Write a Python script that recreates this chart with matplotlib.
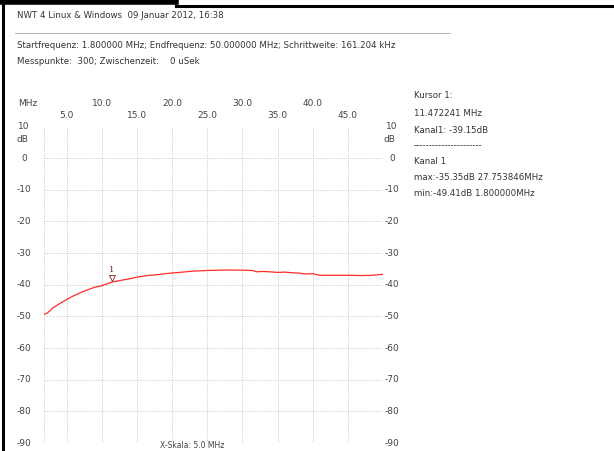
import matplotlib.pyplot as plt
import matplotlib.transforms as mtransforms
import numpy as np

freq = [1.8, 2.3, 3.0, 4.0, 5.0, 6.0, 7.0, 8.0, 9.0, 10.0, 11.47, 13.0, 14.0, 15.0,
        16.5, 18.0, 19.0, 20.0, 21.5, 23.0, 25.0, 27.75, 30.0, 31.5, 32.0, 33.0,
        34.5, 35.0, 36.0, 37.0, 38.0, 39.0, 40.0, 41.0, 43.0, 45.0, 47.0, 48.5, 50.0]
level = [-49.41, -48.9, -47.4, -46.0, -44.7, -43.5, -42.5, -41.6, -40.8, -40.3, -39.15,
         -38.5, -38.1, -37.6, -37.1, -36.8, -36.5, -36.3, -36.0, -35.7, -35.5, -35.35,
         -35.4, -35.5, -35.9, -35.8, -36.0, -36.1, -36.0, -36.2, -36.3, -36.6, -36.5,
         -37.0, -37.0, -37.0, -37.1, -37.0, -36.7]

x_major = [5.0, 10.0, 15.0, 20.0, 25.0, 30.0, 35.0, 40.0, 45.0]
y_ticks = [10, 0, -10, -20, -30, -40, -50, -60, -70, -80, -90]
f_start, f_stop = 1.8, 50.0
cursor_f, cursor_db = 11.472241, -39.15

header = "NWT 4 Linux & Windows  09 Januar 2012, 16:38"
line2 = "Startfrequenz: 1.800000 MHz; Endfrequenz: 50.000000 MHz; Schrittweite: 161.204 kHz"
line3 = "Messpunkte:  300; Zwischenzeit:    0 uSek"
info = ["Kursor 1:", "11.472241 MHz", "Kanal1: -39.15dB", "----------------------",
        "Kanal 1", "max:-35.35dB 27.753846MHz", "min:-49.41dB 1.800000MHz"]

W, H = 614, 451
fig = plt.figure(figsize=(W / 100, H / 100), dpi=100)

def px(x, y):
    return x / W, 1 - y / H

# frame lines of the page
fig.add_artist(plt.Line2D([176 / W, 1], [1 - 6 / H] * 2, color='black', lw=2.2))
fig.add_artist(plt.Line2D([0, 176 / W], [1 - 2 / H] * 2, color='black', lw=4))
fig.add_artist(plt.Line2D([176 / W] * 2, [1, 1 - 7 / H], color='black', lw=1.5))
fig.add_artist(plt.Line2D([3 / W] * 2, [0, 1 - 5 / H], color='black', lw=2.2))

# header
fs = 6.2
tc = '#333333'
fig.text(*px(17, 15), header, fontsize=fs, color=tc, va='center')
fig.add_artist(plt.Line2D([15 / W, 450 / W], [1 - 33 / H] * 2, color='#bbbbbb', lw=0.8))
fig.text(*px(17, 46), line2, fontsize=fs, color=tc, va='center')
fig.text(*px(17, 62), line3, fontsize=fs, color=tc, va='center')

# info panel
info_y = [96, 113, 130, 146, 162, 178, 194]
for s, yy in zip(info, info_y):
    fig.text(*px(414, yy), s, fontsize=fs, color=tc, va='center')

# plot area
left, right, top, bottom = 44, 383, 126.5, 443
ax = fig.add_axes([left / W, 1 - bottom / H, (right - left) / W, (bottom - top) / H])
ax.set_xlim(f_start, f_stop)
ax.set_ylim(-90, 10)
for s in ax.spines.values():
    s.set_visible(False)
ax.set_xticks([])
ax.set_yticks([])

gkw = dict(color='#d0d0d0', lw=0.7, ls=(0, (1.2, 1.2)), zorder=1)
for xv in [f_start] + x_major + [f_stop]:
    ax.axvline(xv, **gkw)
for yv in y_ticks:
    ax.axhline(yv, **gkw)

ax.plot(freq, level, color='#ff2a2a', lw=0.9, zorder=3)

# cursor marker
ax.plot([cursor_f], [cursor_db + 1.3], marker='v', ms=5, mfc='white', mec='#8b1a1a',
        mew=0.6, zorder=4)
ax.text(cursor_f, cursor_db + 2.6, "1", fontsize=6, color='#8b1a1a', ha='center',
        va='bottom', family='DejaVu Serif')

# y labels on both sides
ty = mtransforms.blended_transform_factory(fig.transFigure, ax.transData)
lc = '#444444'
for yv in y_ticks:
    ax.text(24 / W, yv, str(yv), transform=ty, fontsize=6.5, color=lc, ha='center',
            va='center')
    ax.text(392 / W, yv, str(yv), transform=ty, fontsize=6.5, color=lc, ha='center',
            va='center')
ax.text(22 / W, 6, "dB", transform=ty, fontsize=6.5, color=lc, ha='center', va='center')
ax.text(389 / W, 6, "dB", transform=ty, fontsize=6.5, color=lc, ha='center', va='center')

# x labels in two rows above the plot
tx = mtransforms.blended_transform_factory(ax.transData, fig.transFigure)
for i, xv in enumerate(x_major):
    yy = 103 if i % 2 == 1 else 116
    ax.text(xv, 1 - yy / H, "%.1f" % xv, transform=tx, fontsize=6.5, color=lc,
            ha='center', va='center')
fig.text(*px(18, 103), "MHz", fontsize=6.5, color=lc, va='center')

# bottom scale text (cut in the reference, kept fully visible here)
fig.text(*px(160, 450.5), "X-Skala: 5.0 MHz", fontsize=5.5, color=lc, va='bottom')

fig.savefig('out.png', dpi=100)
